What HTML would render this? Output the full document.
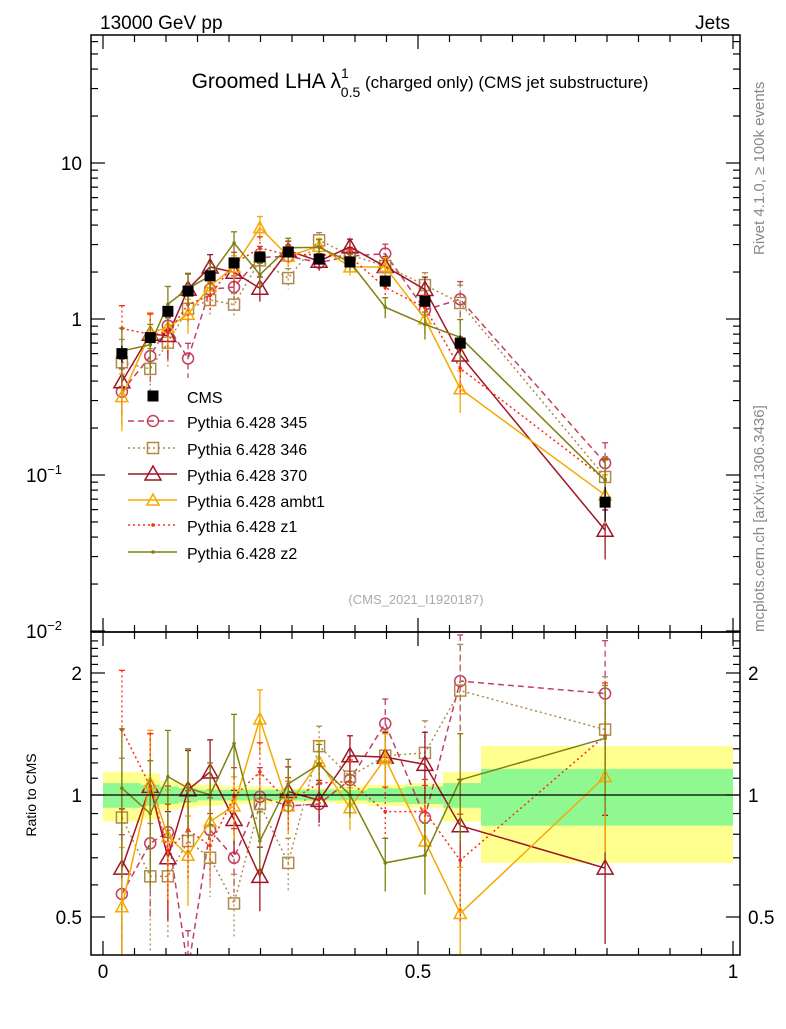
<!DOCTYPE html>
<html><head><meta charset="utf-8">
<style>
body{margin:0;background:#fff;width:786px;height:1024px;overflow:hidden;font-family:"Liberation Sans",sans-serif;}
svg text{font-family:"Liberation Sans",sans-serif;}
</style></head>
<body>
<svg id="c" width="786" height="1024" xmlns="http://www.w3.org/2000/svg">
<text x="100" y="29" font-size="19">13000 GeV pp</text>
<text x="730" y="29" font-size="19" text-anchor="end">Jets</text>
<text x="420" y="88" font-size="21" text-anchor="middle">Groomed LHA λ<tspan font-size="14" dy="-10">1</tspan><tspan font-size="14" dx="-8" dy="19">0.5</tspan><tspan font-size="17" dy="-9"> (charged only) (CMS jet substructure)</tspan></text>
<text transform="translate(764,255) rotate(-90)" font-size="15" fill="#888">Rivet 4.1.0, ≥ 100k events</text>
<text transform="translate(764,632) rotate(-90)" font-size="15" fill="#888">mcplots.cern.ch [arXiv:1306.3436]</text>
<text x="416" y="604" font-size="13" fill="#aaa" text-anchor="middle">(CMS_2021_I1920187)</text>
<text transform="translate(36,795) rotate(-90)" font-size="14" text-anchor="middle">Ratio to CMS</text>
<defs>
<clipPath id="cm"><rect x="91" y="35" width="649" height="597"/></clipPath>
<clipPath id="cr"><rect x="91" y="632" width="649" height="323"/></clipPath>
</defs>
<g id="bands" clip-path="url(#cr)"></g>
<g id="main" clip-path="url(#cm)"></g>
<g id="ratio" clip-path="url(#cr)"></g>
<g id="axes"></g>
<g id="legend"></g>
</svg>
<script>
const xs=[0.03,0.075,0.103,0.135,0.17,0.208,0.249,0.294,0.343,0.392,0.448,0.511,0.567,0.797];
const cms=[0.60,0.76,1.12,1.51,1.89,2.29,2.5,2.69,2.42,2.32,1.75,1.30,0.70,0.067];
const cmsErr=[0.12,0.08,0.07,0.06,0.05,0.05,0.05,0.04,0.04,0.05,0.06,0.07,0.12,0.25];
const edges=[0,0.06,0.09,0.12,0.15,0.19,0.23,0.27,0.32,0.37,0.42,0.48,0.54,0.6,1.0];
const bandTot=[0.14,0.13,0.08,0.07,0.06,0.05,0.05,0.04,0.04,0.05,0.06,0.07,0.14,0.32];
const bandStat=[0.07,0.06,0.05,0.04,0.03,0.03,0.03,0.03,0.03,0.03,0.04,0.05,0.07,0.16];
const r345=[0.57,0.76,0.81,0.37,0.82,0.70,0.99,0.94,0.95,1.09,1.50,0.88,1.91,1.78];
const r346=[0.88,0.63,0.63,0.77,0.70,0.54,0.95,0.68,1.32,1.11,1.25,1.27,1.81,1.45];
const r370=[0.66,1.05,0.70,1.03,1.14,0.87,0.63,1.02,0.97,1.25,1.24,1.19,0.84,0.66];
const rambt1=[0.53,1.07,0.79,0.71,0.86,0.94,1.54,0.94,1.21,0.93,1.23,0.77,0.51,1.11];
const rz1=[1.45,1.05,0.73,0.82,0.75,0.99,1.14,0.96,1.07,1.08,0.91,0.91,0.69,1.40];
const rz2=[1.04,0.90,1.11,1.04,1.00,1.34,0.77,1.065,1.19,1.00,0.68,0.71,1.09,1.38];
const mcErr=[0.4,0.35,0.3,0.25,0.2,0.18,0.18,0.15,0.12,0.12,0.15,0.2,0.3,0.35];
const names=["Pythia 6.428 345","Pythia 6.428 346","Pythia 6.428 370","Pythia 6.428 ambt1","Pythia 6.428 z1","Pythia 6.428 z2"];

const NS="http://www.w3.org/2000/svg";
function mk(p,t,a){const e=document.createElementNS(NS,t);for(const k in a)e.setAttribute(k,a[k]);p.appendChild(e);return e;}
const X=v=>103+630*v;
const YM=v=>319-156*Math.log10(v);
const YR=v=>795-122*Math.log2(v);
const styles=[
 {c:"#c04060",d:"6,4",m:"circle"},
 {c:"#b08a4a",d:"2,3",m:"square"},
 {c:"#a01525",d:"",m:"tri"},
 {c:"#f5a800",d:"",m:"tri-s"},
 {c:"#ff2a10",d:"2,3",m:"dot"},
 {c:"#7f8010",d:"",m:"dot"}];
const series=[r345,r346,r370,rambt1,rz1,rz2];
function marker(g,m,x,y,c,name){
 let e;
 if(m=="circle")e=mk(g,"circle",{cx:x,cy:y,r:5.5,fill:"none",stroke:c,"stroke-width":1.5});
 else if(m=="square")e=mk(g,"rect",{x:x-5.5,y:y-5.5,width:11,height:11,fill:"none",stroke:c,"stroke-width":1.5});
 else if(m=="tri")e=mk(g,"polygon",{points:`${x},${y-8} ${x-8},${y+6} ${x+8},${y+6}`,fill:"none",stroke:c,"stroke-width":1.5});
 else if(m=="tri-s")e=mk(g,"polygon",{points:`${x},${y-6} ${x-6},${y+5} ${x+6},${y+5}`,fill:"none",stroke:c,"stroke-width":1.5});
 else e=mk(g,"circle",{cx:x,cy:y,r:1.8,fill:c});
 
 
}
const gb=document.getElementById("bands");
for(let i=0;i<bandTot.length;i++){
 const x0=X(edges[i]),x1=X(edges[i+1]);
 const y=mk(gb,"rect",{x:x0,y:YR(1+bandTot[i]),width:x1-x0,height:YR(1-bandTot[i])-YR(1+bandTot[i]),fill:"#ffff90"});
 
 
 const gr=mk(gb,"rect",{x:x0,y:YR(1+bandStat[i]),width:x1-x0,height:YR(1-bandStat[i])-YR(1+bandStat[i]),fill:"#90f890"});
 
 
}
const gm=document.getElementById("main"),gr=document.getElementById("ratio");
series.forEach((r,s)=>{
 const st=styles[s];
 for(const [g,Y,val] of [[gm,YM,i=>cms[i]*r[i]],[gr,YR,i=>r[i]]]){
  const pts=xs.map((x,i)=>X(x)+","+Y(val(i))).join(" ");
  const pl=mk(g,"polyline",{points:pts,fill:"none",stroke:st.c,"stroke-width":1.5,"stroke-dasharray":st.d});
  
  
  xs.forEach((x,i)=>{
   const v=val(i),e=mcErr[i];
   const eb=mk(g,"line",{x1:X(x),x2:X(x),y1:Y(v*(1+e)),y2:Y(Math.max(v*(1-e),1e-4)),stroke:st.c,"stroke-width":1.3,"stroke-dasharray":st.d});
   
   
   mk(g,"line",{x1:X(x)-3,x2:X(x)+3,y1:Y(v*(1+e)),y2:Y(v*(1+e)),stroke:st.c,"stroke-width":1.3});
   marker(g,st.m,X(x),Y(v),st.c,'series-point-'+s);
  });
 }
});
xs.forEach((x,i)=>{
 const eb=mk(gm,"line",{x1:X(x),x2:X(x),y1:YM(cms[i]*(1+cmsErr[i])),y2:YM(cms[i]*(1-cmsErr[i])),stroke:"#000","stroke-width":1.3});
 
 
 const m=mk(gm,"rect",{x:X(x)-5.5,y:YM(cms[i])-5.5,width:11,height:11,fill:"#000"});
 
 
});
const ga=document.getElementById("axes");
const one=mk(ga,"line",{x1:91,x2:740,y1:YR(1),y2:YR(1),stroke:"#000","stroke-width":1.3});


for(const [y0,h,n] of [[35,597,'main-frame'],[632,323,'ratio-frame']]){
 const f=mk(ga,"rect",{x:91,y:y0,width:649,height:h,fill:"none",stroke:"#000","stroke-width":1.5});
 
 
}
function tick(x1,y1,x2,y2){mk(ga,"line",{x1,y1,x2,y2,stroke:"#000","stroke-width":1.2});}
for(let d=-2;d<=1;d++)for(let k=1;k<10;k++){
 const v=k*Math.pow(10,d),y=YM(v);
 if(y<35||y>632)continue;
 const L=k==1?14:7;tick(91,y,91+L,y);tick(740,y,740-L,y);
}
[[10,"10"],[1,"1"]].forEach(([v,t])=>{const e=mk(ga,"text",{x:82,y:YM(v)+7,"font-size":19,"text-anchor":"end"});e.textContent=t;});
[[0.1,"-1"],[0.01,"-2"]].forEach(([v,p])=>{const e=mk(ga,"text",{x:62,y:YM(v)+7,"font-size":19,"text-anchor":"end"});e.textContent="10";const ts=mk(e,"tspan",{"font-size":13,dy:-8});ts.textContent="−"+p.slice(1);});
const rt=[0.4,0.5,0.6,0.7,0.8,0.9,1,1.1,1.2,1.3,1.4,1.5,1.6,1.7,1.8,1.9,2,2.1,2.2,2.3,2.4];
rt.forEach(v=>{const y=YR(v);if(y<632||y>955)return;const L=[0.5,1,2].includes(v)?14:7;tick(91,y,91+L,y);tick(740,y,740-L,y);});
[[2,"2"],[1,"1"],[0.5,"0.5"]].forEach(([v,t])=>{
 const e=mk(ga,"text",{x:82,y:YR(v)+7,"font-size":19,"text-anchor":"end"});e.textContent=t;
 const f=mk(ga,"text",{x:748,y:YR(v)+7,"font-size":19});f.textContent=t;
});
for(let i=0;i<=20;i++){const v=i*0.05,x=X(v);if(x>740)continue;const L=(i%10==0)?14:7;
 tick(x,35,x,35+L);tick(x,632,x,632-L);tick(x,632,x,632+L);tick(x,955,x,955-L);}
[[0,"0"],[0.5,"0.5"],[1,"1"]].forEach(([v,t])=>{const e=mk(ga,"text",{x:X(v),y:978,"font-size":19,"text-anchor":"middle"});e.textContent=t;});
const gl=document.getElementById("legend");
const rows=[396,421,448,474,500,525,552];
const c0=mk(gl,"rect",{x:147.5,y:rows[0]-5.5,width:11,height:11,fill:"#000"});

const t0=mk(gl,"text",{x:187,y:rows[0]+7,"font-size":16});t0.textContent="CMS";

names.forEach((n,s)=>{
 const st=styles[s],y=rows[s+1];
 const l=mk(gl,"line",{x1:128,x2:177,y1:y,y2:y,stroke:st.c,"stroke-width":1.5,"stroke-dasharray":st.d});
 
 marker(gl,st.m,153,y,st.c,'legend-marker');
 const t=mk(gl,"text",{x:187,y:y+7,"font-size":16});t.textContent=n;
 
});
</script>
</body></html>
